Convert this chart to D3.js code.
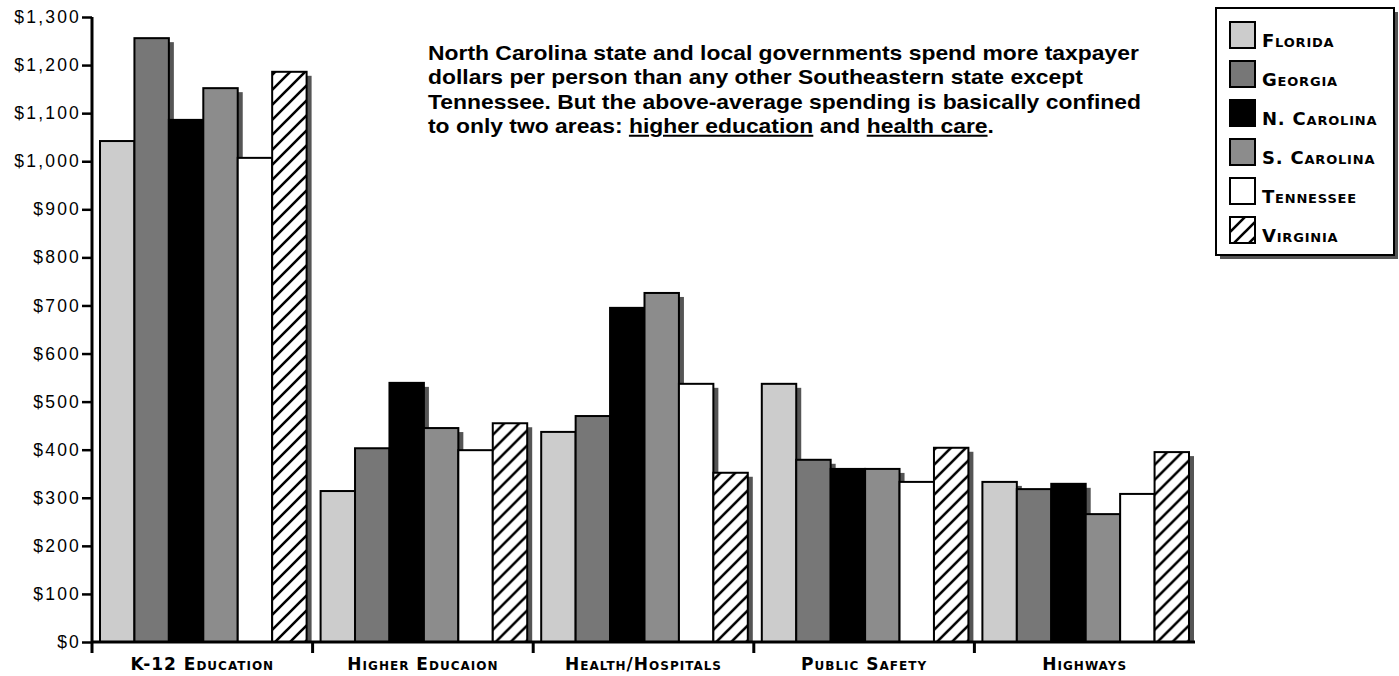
<!DOCTYPE html>
<html>
<head>
<meta charset="utf-8">
<script src="https://cdn.jsdelivr.net/npm/d3@7"></script>
<style>
  body { margin: 0; background: #fff; }
  svg { display: block; }
  .sc { font-family: "DejaVu Sans", sans-serif; font-weight: bold; font-variant: small-caps; }
</style>
</head>
<body>
<svg id="chart"></svg>
<script>
var categories = ["K-12 Education", "Higher Educaion", "Health/Hospitals", "Public Safety", "Highways"];
var states = ["Florida", "Georgia", "N. Carolina", "S. Carolina", "Tennessee", "Virginia"];

// per person spending, one array per state, same order as categories
var florida   = [1042, 314, 437, 537, 333];
var georgia   = [1256, 403, 470, 379, 318];
var ncarolina = [1086, 539, 695, 360, 329];
var scarolina = [1152, 445, 726, 360, 266];
var tennessee = [1007, 399, 537, 333, 308];
var virginia  = [1186, 455, 352, 404, 395];

var yTicks = [0, 100, 200, 300, 400, 500, 600, 700, 800, 900, 1000, 1100, 1200, 1300];

var noteLines = [
  [{t: "North Carolina state and local governments spend more taxpayer"}],
  [{t: "dollars per person than any other Southeastern state except"}],
  [{t: "Tennessee. But the above-average spending is basically confined"}],
  [{t: "to only two areas: "}, {t: "higher education", u: true}, {t: " and "}, {t: "health care", u: true}, {t: "."}]
];

var series = [florida, georgia, ncarolina, scarolina, tennessee, virginia];
var fills = ["#cccccc", "#777777", "#000000", "#8c8c8c", "#ffffff", "url(#hatch)"];

var dimensions = {
  width: 1399,
  height: 676,
  margin: {top: 17, right: 204, bottom: 34, left: 92}
};

var svg = d3.select("#chart")
  .attr("width", dimensions.width)
  .attr("height", dimensions.height);

var defs = svg.append("defs");
var pat = defs.append("pattern")
  .attr("id", "hatch")
  .attr("patternUnits", "userSpaceOnUse")
  .attr("width", 15)
  .attr("height", 15);
pat.append("rect").attr("width", 15).attr("height", 15).attr("fill", "#fff");
pat.append("path")
  .attr("d", "M-4,4 L4,-4 M0,15 L15,0 M11,19 L19,11")
  .attr("stroke", "#000")
  .attr("stroke-width", 2.6);

var x0 = d3.scaleBand()
  .domain(categories)
  .range([dimensions.margin.left, dimensions.width - dimensions.margin.right]);

var x1 = d3.scaleBand()
  .domain(d3.range(states.length))
  .range([8, x0.bandwidth() - 6]);

var yScale = d3.scaleLinear()
  .domain([0, 1300])
  .range([dimensions.height - dimensions.margin.bottom, dimensions.margin.top]);

var bottom = yScale(0);

// bars, each with its own drop shadow
categories.forEach(function(cat, ci) {
  var g = svg.append("g").attr("transform", "translate(" + x0(cat) + ",0)");
  series.forEach(function(vals, si) {
    var v = vals[ci];
    g.append("rect")
      .attr("x", x1(si) + 5)
      .attr("y", yScale(v) + 4)
      .attr("width", x1.bandwidth())
      .attr("height", bottom - yScale(v) - 4)
      .attr("fill", "#555");
    g.append("rect")
      .attr("x", x1(si))
      .attr("y", yScale(v))
      .attr("width", x1.bandwidth())
      .attr("height", bottom - yScale(v))
      .attr("fill", fills[si])
      .attr("stroke", "#000")
      .attr("stroke-width", 2);
  });
});

// y axis
var yAxis = svg.append("g")
  .attr("transform", "translate(" + dimensions.margin.left + ",0)")
  .call(d3.axisLeft(yScale)
    .tickValues(yTicks)
    .tickSize(10)
    .tickPadding(1)
    .tickFormat(d => "$" + d3.format(",")(d)));
yAxis.select(".domain").remove();
yAxis.selectAll(".tick line").attr("stroke", "#000").attr("stroke-width", 2.5);
yAxis.selectAll("text")
  .attr("font-family", "Liberation Sans, Arial, sans-serif")
  .attr("font-size", 17.5)
  .attr("letter-spacing", 2.2)
  .attr("fill", "#000");

svg.append("line")
  .attr("x1", dimensions.margin.left).attr("x2", dimensions.margin.left)
  .attr("y1", yScale(1300)).attr("y2", bottom + 11)
  .attr("stroke", "#000").attr("stroke-width", 3);

// x axis
var xAxis = svg.append("g")
  .attr("transform", "translate(0," + bottom + ")")
  .call(d3.axisBottom(x0).tickSize(0).tickPadding(16));
xAxis.select(".domain").remove();
xAxis.selectAll("text")
  .attr("class", "sc")
  .attr("font-size", 17)
  .attr("letter-spacing", 1)
  .attr("fill", "#000");

svg.append("line")
  .attr("x1", dimensions.margin.left).attr("x2", dimensions.width - dimensions.margin.right)
  .attr("y1", bottom).attr("y2", bottom)
  .attr("stroke", "#000").attr("stroke-width", 3);

svg.selectAll(".sep")
  .data(categories.slice(1))
  .enter()
  .append("line")
  .attr("x1", d => x0(d)).attr("x2", d => x0(d))
  .attr("y1", bottom).attr("y2", bottom + 11)
  .attr("stroke", "#000").attr("stroke-width", 3);

// note, drawn slightly stretched like the original
var note = svg.append("text")
  .attr("transform", "translate(428,0) scale(1.145,1)")
  .attr("font-family", "Liberation Sans, Arial, sans-serif")
  .attr("font-weight", "bold")
  .attr("font-size", 20)
  .attr("fill", "#000");
noteLines.forEach(function(line, i) {
  var first = true;
  line.forEach(function(part) {
    var ts = note.append("tspan").text(part.t);
    if (first) { ts.attr("x", 0).attr("y", 60 + i * 24.3); first = false; }
    if (part.u) ts.attr("text-decoration", "underline");
  });
});

// legend
var lg = svg.append("g").attr("transform", "translate(1216,8)");
lg.append("rect").attr("x", 4).attr("y", 4).attr("width", 178).attr("height", 247).attr("fill", "#555");
lg.append("rect").attr("x", 0).attr("y", 0).attr("width", 178).attr("height", 247)
  .attr("fill", "#fff").attr("stroke", "#000").attr("stroke-width", 2);

var items = lg.selectAll(".item")
  .data(states)
  .enter()
  .append("g")
  .attr("transform", (d, i) => "translate(14," + (14 + i * 39) + ")");
items.append("rect")
  .attr("width", 25).attr("height", 26)
  .attr("fill", (d, i) => fills[i])
  .attr("stroke", "#000").attr("stroke-width", 2);
items.append("text")
  .attr("class", "sc")
  .attr("x", 32).attr("y", 25)
  .attr("font-size", 18)
  .attr("letter-spacing", 0.8)
  .attr("fill", "#000")
  .text(d => d);
</script>
</body>
</html>
